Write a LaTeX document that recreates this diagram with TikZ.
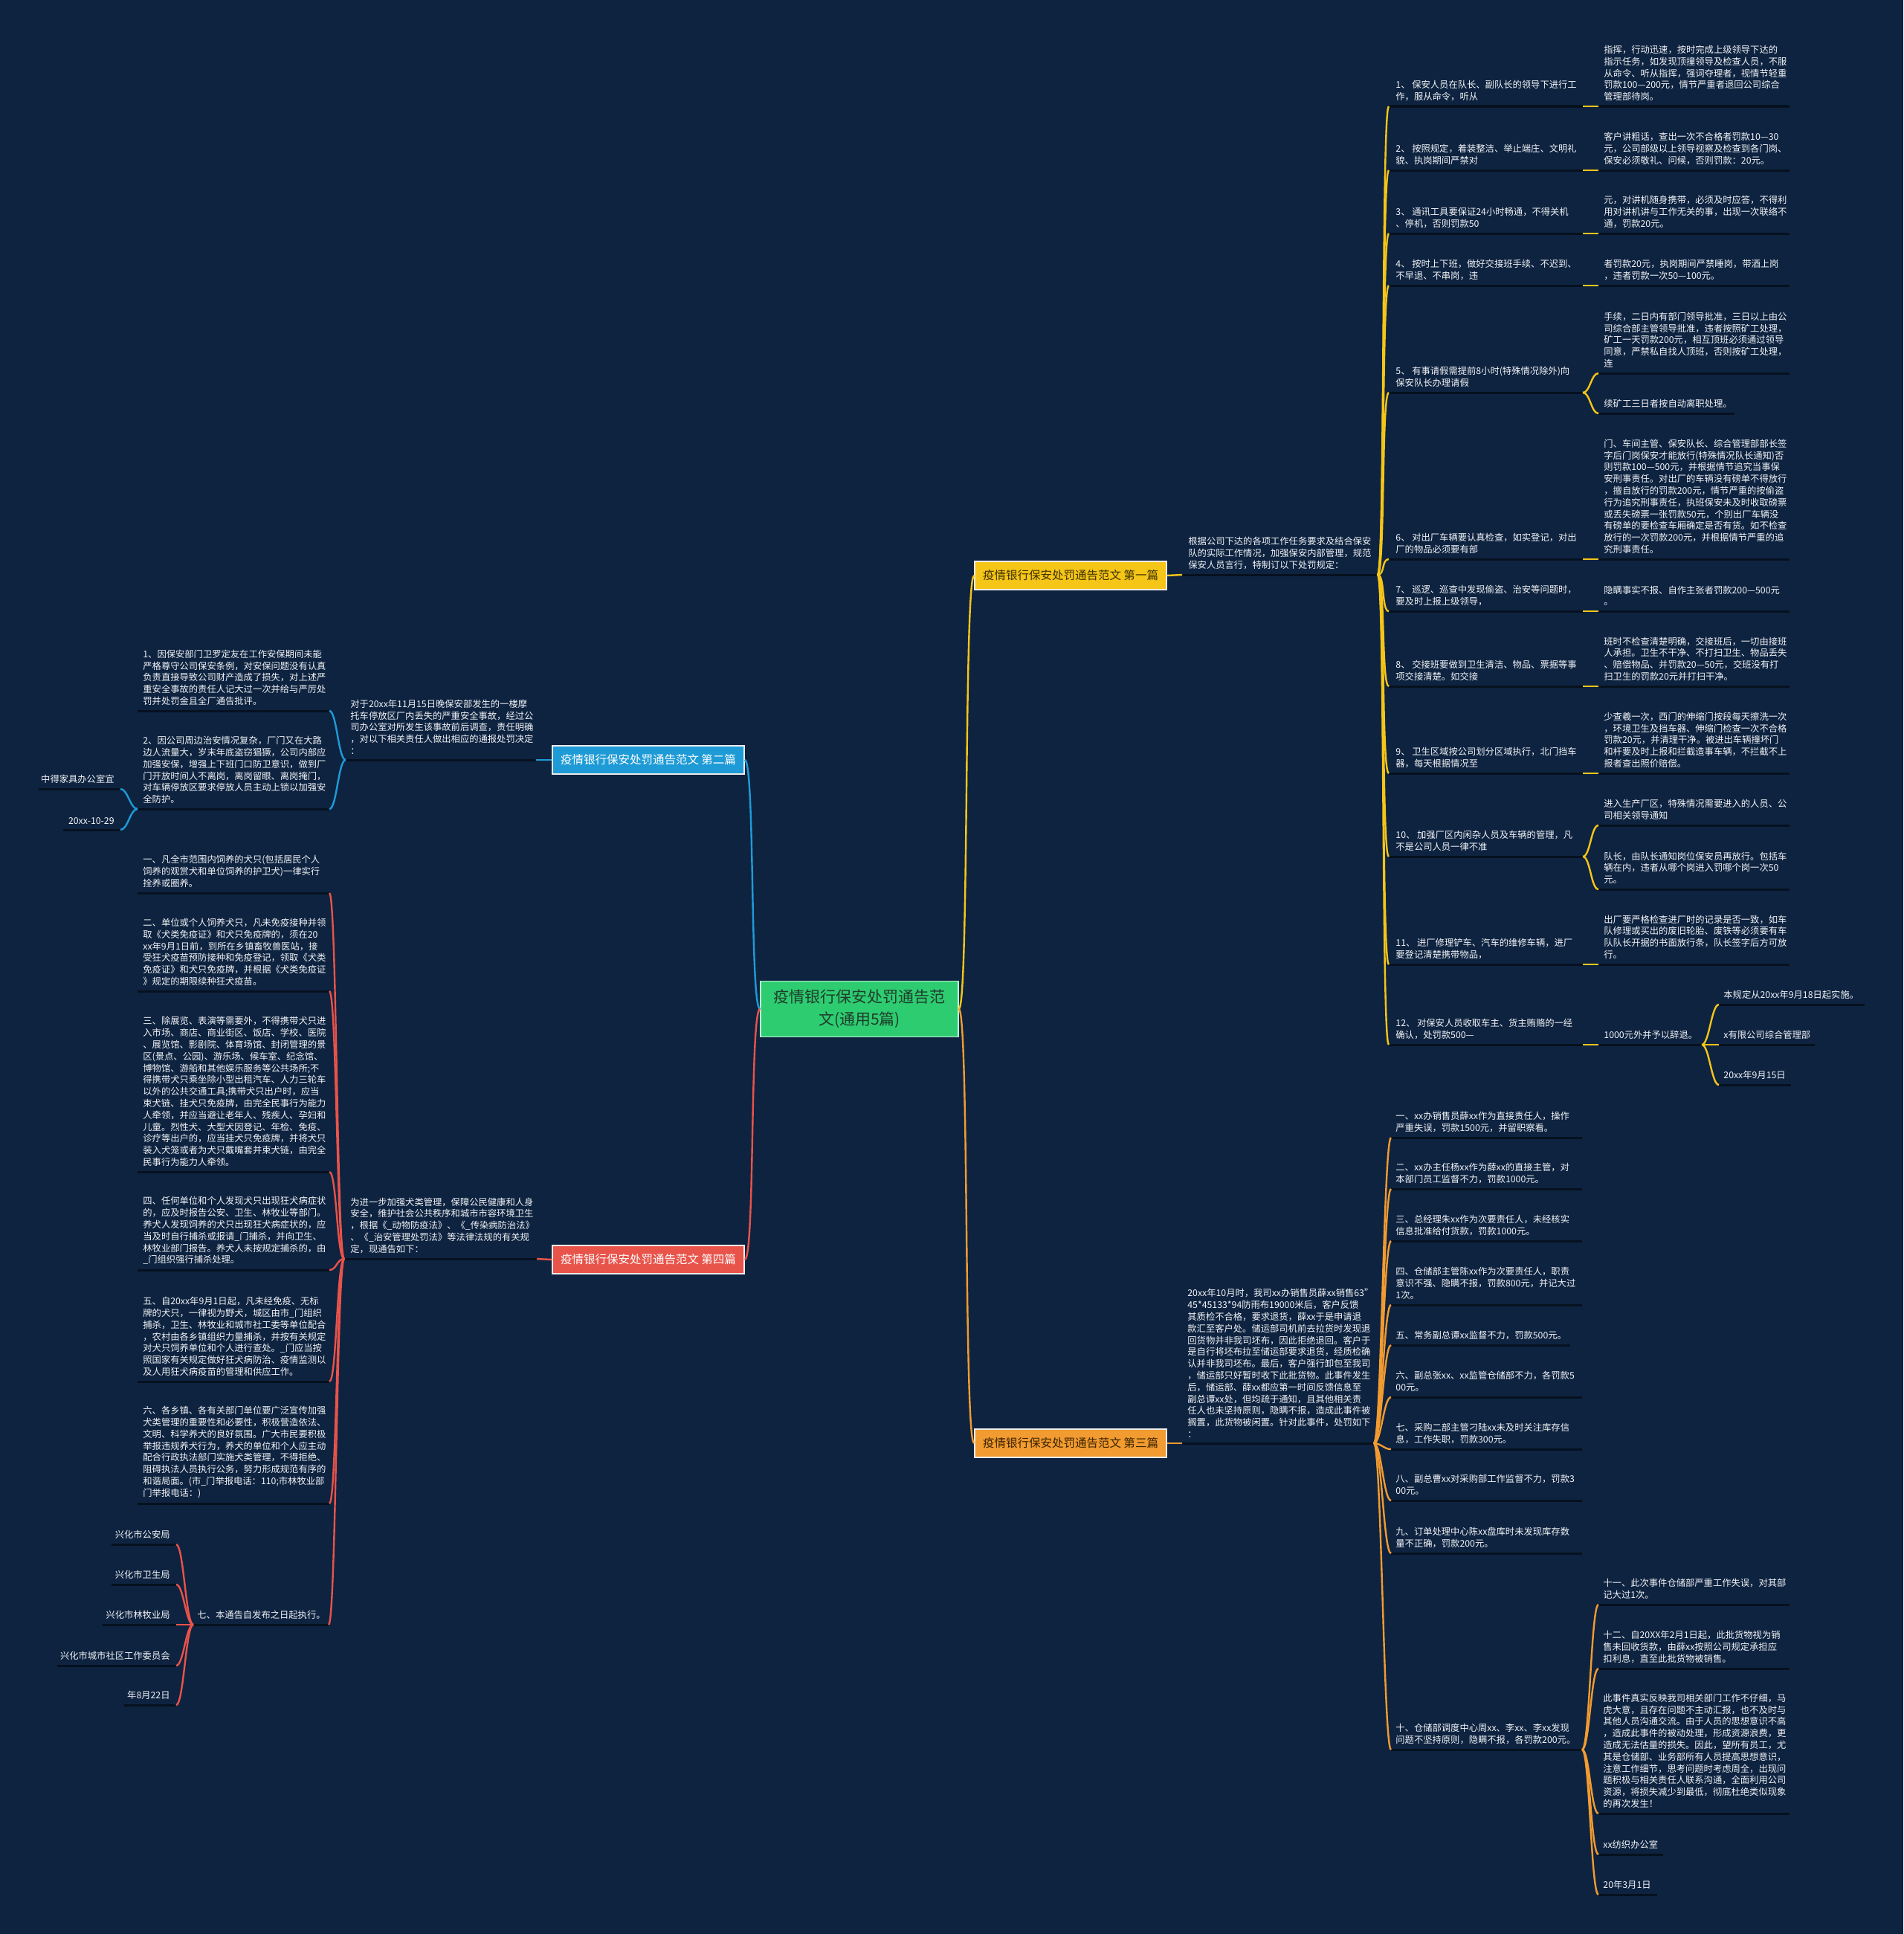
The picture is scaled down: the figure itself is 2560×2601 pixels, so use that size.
\documentclass[tikz,border=0pt]{standalone}
\usepackage{fontspec}
\setmainfont{Noto Sans CJK SC}
\usetikzlibrary{calc}
\definecolor{bg}{HTML}{0E2340}
\definecolor{ul}{HTML}{06111F}
\definecolor{cyel}{HTML}{F5C518}
\definecolor{cblue}{HTML}{1E9BD7}
\definecolor{corg}{HTML}{F29B30}
\definecolor{cred}{HTML}{E8534A}
\definecolor{cgrn}{HTML}{2ECC71}
\definecolor{txtw}{HTML}{F2F4F7}
\definecolor{tdy}{HTML}{3E3200}
\definecolor{tdo}{HTML}{3A2200}
\definecolor{tdg}{HTML}{1E3D2A}
\newcommand\ft{\fontsize{6.15pt}{7.9pt}\selectfont}
\newcommand\mmleaf[6]{%
  \coordinate (#1-l) at (#2,#4);
  \coordinate (#1-r) at (#3,#4);
  \draw[uline] (#1-l) -- (#1-r);
  \node[txt] (#1) at (#5,{#4-7}) {#6};}
\newcommand\mmleafR[5]{%
  \coordinate (#1-l) at (#2,#4);
  \coordinate (#1-r) at (#3,#4);
  \draw[uline] (#1-l) -- (#1-r);
  \node[txtR] (#1) at ({#3-8},{#4-7}) {#5};}
\newcommand\cR[3]{\draw[#1] (#2) .. controls ($(#2)+(10,0)$) and ($(#3)+(-10,0)$) .. (#3);}
\newcommand\cL[3]{\draw[#1] (#2) .. controls ($(#2)+(-10,0)$) and ($(#3)+(10,0)$) .. (#3);}
\tikzset{
  txt/.style={anchor=south west,inner sep=0pt,align=left,font=\ft,text=txtw},
  txtR/.style={txt,anchor=south east,align=right},
  uline/.style={draw=ul,line width=1.5pt},
  cy/.style={draw=cyel,line width=1.2pt},
  cb/.style={draw=cblue,line width=1.2pt},
  co/.style={draw=corg,line width=1.2pt},
  cr/.style={draw=cred,line width=1.2pt},
  sec/.style={minimum width=129pt,minimum height=19pt,inner sep=0pt,font=\fontsize{7.75pt}{9pt}\selectfont,draw=white!85!gray,line width=0.7pt},
  ctr/.style={minimum width=133pt,minimum height=37.5pt,inner sep=0pt,align=center,fill=cgrn,text=tdg,draw=white!70!cgrn,line width=0.6pt,font=\fontsize{10.5pt}{15pt}\selectfont}
}
\begin{document}
\begin{tikzpicture}[x=0.5pt,y=-0.5pt]
\fill[bg] (0,0) rectangle (2560,2601);
\useasboundingbox (0,0) rectangle (2560,2601);

% ---------- central and section nodes
\node[ctr] (c) at (1156,1357) {疫情银行保安处罚通告范\\文(通用5篇)};
\node[sec,fill=cyel,text=tdy] (s1) at (1440,774) {疫情银行保安处罚通告范文 第一篇};
\node[sec,fill=cblue,text=white] (s2) at (872,1022) {疫情银行保安处罚通告范文 第二篇};
\node[sec,fill=corg,text=tdo] (s3) at (1440,1941) {疫情银行保安处罚通告范文 第三篇};
\node[sec,fill=cred,text=white] (s4) at (872,1694) {疫情银行保安处罚通告范文 第四篇};

\draw[cy] (c.east) .. controls ($(c.east)+(14,0)$) and ($(s1.west)+(-14,0)$) .. (s1.west);
\draw[co] (c.east) .. controls ($(c.east)+(14,0)$) and ($(s3.west)+(-14,0)$) .. (s3.west);
\draw[cb] (c.west) .. controls ($(c.west)+(-14,0)$) and ($(s2.east)+(14,0)$) .. (s2.east);
\draw[cr] (c.west) .. controls ($(c.west)+(-14,0)$) and ($(s4.east)+(14,0)$) .. (s4.east);

% ---------- branch 1 (yellow)
\mmleaf{s1t}{1590}{1853}{773}{1598}{根据公司下达的各项工作任务要求及结合保安\\队的实际工作情况，加强保安内部管理，规范\\保安人员言行，特制订以下处罚规定：}
\draw[cy] (s1.east) -- (s1t-l);

\mmleaf{i1}{1868}{2129}{143}{1877}{1、 保安人员在队长、副队长的领导下进行工\\作，服从命令，听从}
\mmleaf{d1}{2150}{2407}{143}{2157}{指挥，行动迅速，按时完成上级领导下达的\\指示任务，如发现顶撞领导及检查人员，不服\\从命令、听从指挥，强词夺理者，视情节轻重\\罚款100—200元，情节严重者退回公司综合\\管理部待岗。}
\mmleaf{i2}{1868}{2129}{229}{1877}{2、 按照规定，着装整洁、举止端庄、文明礼\\貌、执岗期间严禁对}
\mmleaf{d2}{2150}{2407}{229}{2157}{客户讲粗话，查出一次不合格者罚款10—30\\元，公司部级以上领导视察及检查到各门岗、\\保安必须敬礼、问候，否则罚款：20元。}
\mmleaf{i3}{1868}{2129}{314}{1877}{3、 通讯工具要保证24小时畅通，不得关机\\、停机，否则罚款50}
\mmleaf{d3}{2150}{2407}{314}{2157}{元，对讲机随身携带，必须及时应答，不得利\\用对讲机讲与工作无关的事，出现一次联络不\\通，罚款20元。}
\mmleaf{i4}{1868}{2129}{384}{1877}{4、 按时上下班，做好交接班手续、不迟到、\\不早退、不串岗，违}
\mmleaf{d4}{2150}{2407}{384}{2157}{者罚款20元，执岗期间严禁睡岗，带酒上岗\\，违者罚款一次50—100元。}
\mmleaf{i5}{1868}{2129}{528}{1877}{5、 有事请假需提前8小时(特殊情况除外)向\\保安队长办理请假}
\mmleaf{d5a}{2150}{2407}{502}{2157}{手续，二日内有部门领导批准，三日以上由公\\司综合部主管领导批准，违者按照矿工处理，\\矿工一天罚款200元，相互顶班必须通过领导\\同意，严禁私自找人顶班，否则按矿工处理，\\连}
\mmleaf{d5b}{2150}{2333}{556}{2157}{续矿工三日者按自动离职处理。}
\mmleaf{i6}{1868}{2129}{752}{1877}{6、 对出厂车辆要认真检查，如实登记，对出\\厂的物品必须要有部}
\mmleaf{d6}{2150}{2407}{752}{2157}{门、车间主管、保安队长、综合管理部部长签\\字后门岗保安才能放行(特殊情况队长通知)否\\则罚款100—500元，并根据情节追究当事保\\安刑事责任。对出厂的车辆没有磅单不得放行\\，擅自放行的罚款200元，情节严重的按偷盗\\行为追究刑事责任，执班保安未及时收取磅票\\或丢失磅票一张罚款50元，个别出厂车辆没\\有磅单的要检查车厢确定是否有货。如不检查\\放行的一次罚款200元，并根据情节严重的追\\究刑事责任。}
\mmleaf{i7}{1868}{2129}{822}{1877}{7、 巡逻、巡查中发现偷盗、治安等问题时，\\要及时上报上级领导，}
\mmleaf{d7}{2150}{2407}{822}{2157}{隐瞒事实不报、自作主张者罚款200—500元\\。}
\mmleaf{i8}{1868}{2129}{923}{1877}{8、 交接班要做到卫生清洁、物品、票据等事\\项交接清楚。如交接}
\mmleaf{d8}{2150}{2407}{923}{2157}{班时不检查清楚明确，交接班后，一切由接班\\人承担。卫生不干净、不打扫卫生、物品丢失\\、赔偿物品、并罚款20—50元，交班没有打\\扫卫生的罚款20元并打扫干净。}
\mmleaf{i9}{1868}{2129}{1040}{1877}{9、 卫生区域按公司划分区域执行，北门挡车\\器，每天根据情况至}
\mmleaf{d9}{2150}{2407}{1040}{2157}{少查羲一次，西门的伸缩门按段每天擦洗一次\\，环境卫生及挡车器、伸缩门检查一次不合格\\罚款20元，并清理干净。被进出车辆撞坏门\\和杆要及时上报和拦截造事车辆，不拦截不上\\报者查出照价赔偿。}
\mmleaf{i10}{1868}{2129}{1152}{1877}{10、 加强厂区内闲杂人员及车辆的管理，凡\\不是公司人员一律不准}
\mmleaf{d10a}{2150}{2407}{1110}{2157}{进入生产厂区，特殊情况需要进入的人员、公\\司相关领导通知}
\mmleaf{d10b}{2150}{2407}{1196}{2157}{队长，由队长通知岗位保安员再放行。包括车\\辆在内，违者从哪个岗进入罚哪个岗一次50\\元。}
\mmleaf{i11}{1868}{2129}{1297}{1877}{11、 进厂修理铲车、汽车的维修车辆，进厂\\要登记清楚携带物品，}
\mmleaf{d11}{2150}{2407}{1297}{2157}{出厂要严格检查进厂时的记录是否一致，如车\\队修理或买出的废旧轮胎、废铁等必须要有车\\队队长开据的书面放行条，队长签字后方可放\\行。}
\mmleaf{i12}{1868}{2129}{1405}{1877}{12、 对保安人员收取车主、货主贿赂的一经\\确认，处罚款500—}
\mmleaf{d12}{2150}{2289}{1405}{2157}{1000元外并予以辞退。}
\mmleaf{e1}{2312}{2508}{1351}{2318}{本规定从20xx年9月18日起实施。}
\mmleaf{e2}{2312}{2441}{1405}{2318}{x有限公司综合管理部}
\mmleaf{e3}{2312}{2409}{1459}{2318}{20xx年9月15日}

\foreach \k in {i1,i2,i3,i4,i5,i6,i7,i8,i9,i10,i11,i12}{\cR{cy}{s1t-r}{\k-l}}
\foreach \a/\b in {i1/d1,i2/d2,i3/d3,i4/d4,i5/d5a,i5/d5b,i6/d6,i7/d7,i8/d8,i9/d9,i10/d10a,i10/d10b,i11/d11,i12/d12,d12/e1,d12/e2,d12/e3}{\cR{cy}{\a-r}{\b-l}}

% ---------- branch 3 (orange)
\mmleaf{s3t}{1590}{1848}{1941}{1597}{20xx年10月时，我司xx办销售员薛xx销售63"\\45*45133*94防雨布19000米后，客户反馈\\其质检不合格，要求退货，薛xx于是申请退\\款汇至客户处。储运部司机前去拉货时发现退\\回货物并非我司坯布，因此拒绝退回。客户于\\是自行将坯布拉至储运部要求退货，经质检确\\认并非我司坯布。最后，客户强行卸包至我司\\，储运部只好暂时收下此批货物。此事件发生\\后，储运部、薛xx都应第一时间反馈信息至\\副总谭xx处，但均疏于通知，且其他相关责\\任人也未坚持原则，隐瞒不报，造成此事件被\\搁置，此货物被闲置。针对此事件，处罚如下\\：}
\draw[co] (s3.east) -- (s3t-l);

\mmleaf{j1}{1871}{2128}{1530}{1877}{一、xx办销售员薛xx作为直接责任人，操作\\严重失误，罚款1500元，并留职察看。}
\mmleaf{j2}{1871}{2128}{1599}{1877}{二、xx办主任杨xx作为薛xx的直接主管，对\\本部门员工监督不力，罚款1000元。}
\mmleaf{j3}{1871}{2128}{1669}{1877}{三、总经理朱xx作为次要责任人，未经核实\\信息批准给付货款，罚款1000元。}
\mmleaf{j4}{1871}{2128}{1755}{1877}{四、仓储部主管陈xx作为次要责任人，职责\\意识不强、隐瞒不报，罚款800元，并记大过\\1次。}
\mmleaf{j5}{1871}{2112}{1809}{1877}{五、常务副总谭xx监督不力，罚款500元。}
\mmleaf{j6}{1871}{2128}{1879}{1877}{六、副总张xx、xx监管仓储部不力，各罚款5\\00元。}
\mmleaf{j7}{1871}{2128}{1949}{1877}{七、采购二部主管刁陆xx未及时关注库存信\\息，工作失职，罚款300元。}
\mmleaf{j8}{1871}{2128}{2018}{1877}{八、副总曹xx对采购部工作监督不力，罚款3\\00元。}
\mmleaf{j9}{1871}{2128}{2089}{1877}{九、订单处理中心陈xx盘库时未发现库存数\\量不正确，罚款200元。}
\mmleaf{j10}{1871}{2128}{2353}{1877}{十、仓储部调度中心周xx、李xx、李xx发现\\问题不坚持原则，隐瞒不报，各罚款200元。}
\mmleaf{k1}{2150}{2407}{2158}{2156}{十一、此次事件仓储部严重工作失误，对其部\\记大过1次。}
\mmleaf{k2}{2150}{2407}{2244}{2156}{十二、自20XX年2月1日起，此批货物视为销\\售未回收货款，由薛xx按照公司规定承担应\\扣利息，直至此批货物被销售。}
\mmleaf{k3}{2150}{2407}{2439}{2156}{此事件真实反映我司相关部门工作不仔细，马\\虎大意，且存在问题不主动汇报，也不及时与\\其他人员沟通交流。由于人员的思想意识不高\\，造成此事件的被动处理，形成资源浪费，更\\造成无法估量的损失。因此，望所有员工，尤\\其是仓储部、业务部所有人员提高思想意识，\\注意工作细节，思考问题时考虑周全，出现问\\题积极与相关责任人联系沟通，全面利用公司\\资源，将损失减少到最低，彻底杜绝类似现象\\的再次发生！}
\mmleaf{k4}{2150}{2237}{2494}{2156}{xx纺织办公室}
\mmleaf{k5}{2150}{2229}{2548}{2156}{20年3月1日}

\foreach \k in {j1,j2,j3,j4,j5,j6,j7,j8,j9,j10}{\cR{co}{s3t-r}{\k-l}}
\foreach \k in {k1,k2,k3,k4,k5}{\cR{co}{j10-r}{\k-l}}

% ---------- branch 2 (blue)
\mmleaf{s2t}{465}{721}{1022}{471}{对于20xx年11月15日晚保安部发生的一楼摩\\托车停放区厂内丢失的严重安全事故，经过公\\司办公室对所发生该事故前后调查，责任明确\\，对以下相关责任人做出相应的通报处罚决定\\：}
\draw[cb] (s2.west) -- (s2t-r);
\mmleaf{n1}{185}{443}{956}{192}{1、因保安部门卫罗定友在工作安保期间未能\\严格尊守公司保安条例，对安保问题没有认真\\负责直接导致公司财产造成了损失，对上述严\\重安全事故的责任人记大过一次并给与严厉处\\罚并处罚金且全厂通告批评。}
\mmleaf{n2}{185}{443}{1088}{192}{2、因公司周边治安情况复杂，厂门又在大路\\边人流量大，岁末年底盗窃猖獗，公司内部应\\加强安保，增强上下班门口防卫意识，做到厂\\门开放时间人不离岗，离岗留眼、离岗掩门，\\对车辆停放区要求停放人员主动上锁以加强安\\全防护。}
\mmleafR{o1}{52}{162}{1061}{中得家具办公室宜}
\mmleafR{o2}{85}{162}{1116}{20xx-10-29}
\cL{cb}{s2t-l}{n1-r}
\cL{cb}{s2t-l}{n2-r}
\cL{cb}{n2-l}{o1-r}
\cL{cb}{n2-l}{o2-r}

% ---------- branch 4 (red)
\mmleaf{s4t}{463}{722}{1693}{471}{为进一步加强犬类管理，保障公民健康和人身\\安全，维护社会公共秩序和城市市容环境卫生\\，根据《\_动物防疫法》、《\_传染病防治法》\\、《\_治安管理处罚法》等法律法规的有关规\\定，现通告如下：}
\draw[cr] (s4.west) -- (s4t-r);
\mmleaf{l1}{185}{443}{1201}{192}{一、凡全市范围内饲养的犬只(包括居民个人\\饲养的观赏犬和单位饲养的护卫犬)一律实行\\拴养或圈养。}
\mmleaf{l2}{185}{443}{1333}{192}{二、单位或个人饲养犬只，凡未免疫接种并领\\取《犬类免疫证》和犬只免疫牌的，须在20\\xx年9月1日前，到所在乡镇畜牧兽医站，接\\受狂犬疫苗预防接种和免疫登记，领取《犬类\\免疫证》和犬只免疫牌，并根据《犬类免疫证\\》规定的期限续种狂犬疫苗。}
\mmleaf{l3}{185}{443}{1576}{192}{三、除展览、表演等需要外，不得携带犬只进\\入市场、商店、商业街区、饭店、学校、医院\\、展览馆、影剧院、体育场馆、封闭管理的景\\区(景点、公园)、游乐场、候车室、纪念馆、\\博物馆、游船和其他娱乐服务等公共场所;不\\得携带犬只乘坐除小型出租汽车、人力三轮车\\以外的公共交通工具;携带犬只出户时，应当\\束犬链、挂犬只免疫牌，由完全民事行为能力\\人牵领，并应当避让老年人、残疾人、孕妇和\\儿童。烈性犬、大型犬因登记、年检、免疫、\\诊疗等出户的，应当挂犬只免疫牌，并将犬只\\装入犬笼或者为犬只戴嘴套并束犬链，由完全\\民事行为能力人牵领。}
\mmleaf{l4}{185}{443}{1708}{192}{四、任何单位和个人发现犬只出现狂犬病症状\\的，应及时报告公安、卫生、林牧业等部门。\\养犬人发现饲养的犬只出现狂犬病症状的，应\\当及时自行捕杀或报请\_门捕杀，并向卫生、\\林牧业部门报告。养犬人未按规定捕杀的，由\\\_门组织强行捕杀处理。}
\mmleaf{l5}{185}{443}{1858}{192}{五、自20xx年9月1日起，凡未经免疫、无标\\牌的犬只，一律视为野犬，城区由市\_门组织\\捕杀，卫生、林牧业和城市社工委等单位配合\\，农村由各乡镇组织力量捕杀，并按有关规定\\对犬只饲养单位和个人进行查处。\_门应当按\\照国家有关规定做好狂犬病防治、疫情监测以\\及人用狂犬病疫苗的管理和供应工作。}
\mmleaf{l6}{185}{443}{2022}{192}{六、各乡镇、各有关部门单位要广泛宣传加强\\犬类管理的重要性和必要性，积极营造依法、\\文明、科学养犬的良好氛围。广大市民要积极\\举报违规养犬行为，养犬的单位和个人应主动\\配合行政执法部门实施犬类管理，不得拒绝、\\阻碍执法人员执行公务，努力形成规范有序的\\和谐局面。(市\_门举报电话：110;市林牧业部\\门举报电话：)}
\mmleaf{l7}{260}{442}{2185}{265}{七、本通告自发布之日起执行。}
\mmleafR{m1}{150}{237}{2077}{兴化市公安局}
\mmleafR{m2}{150}{237}{2131}{兴化市卫生局}
\mmleafR{m3}{138}{237}{2185}{兴化市林牧业局}
\mmleafR{m4}{77}{237}{2240}{兴化市城市社区工作委员会}
\mmleafR{m5}{167}{237}{2293}{年8月22日}

\foreach \k in {l1,l2,l3,l4,l5,l6,l7}{\cL{cr}{s4t-l}{\k-r}}
\foreach \k in {m1,m2,m3,m4,m5}{\cL{cr}{l7-l}{\k-r}}
\end{tikzpicture}
\end{document}
